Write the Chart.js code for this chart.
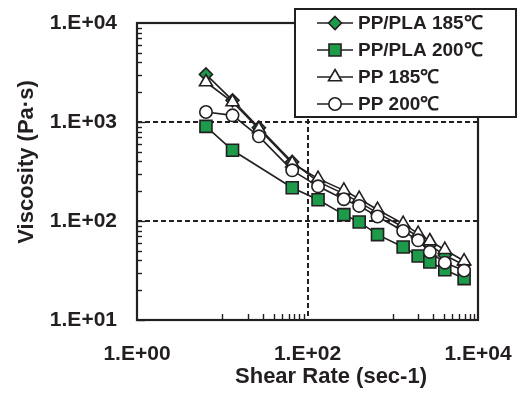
<!DOCTYPE html>
<html><head><meta charset="utf-8">
<script src="https://cdn.jsdelivr.net/npm/chart.js@4.4.0/dist/chart.umd.min.js"></script>
<style>html,body{margin:0;padding:0;background:#fff}canvas{display:block}</style>
</head><body>
<canvas id="c" width="520" height="394"></canvas>
<script>
// ---- data ----
const shearRate = [6.44, 13.2, 26.9, 66.2, 133, 267, 404, 663, 1324, 1986, 2722, 4080, 6870];
const ppPla185 = [3027, 1656, 877, 395, 250, 188, 155, 120, 87, 69, 57, 45, 36];
const ppPla200 = [904, 518, null, 217, 164, 116, 97.8, 72.8, 54.6, 44.3, 38.5, 32.2, 26.2];
const pp185 = [2535, 1592, 850, 383, 268, 204, 168, 130, 94, 74.5, 62.8, 51.3, 39.4];
const pp200 = [1262, 1167, 716, 325, 224, 166, 142, 111, 79.3, 63.8, 48.7, 37.9, 31.6];
const seriesNames = ['PP/PLA 185\u2103', 'PP/PLA 200\u2103', 'PP 185\u2103', 'PP 200\u2103'];
const xTickValues = [1, 100, 10000];
const yTickValues = [10, 100, 1000, 10000];
const xMinorTicks = [10,20,30,40,50,60,70,80,90,1000,2000,3000,4000,5000,6000,7000,8000,9000];
const xTitle = 'Shear Rate (sec-1)';
const yTitle = 'Viscosity (Pa\u00b7s)';

const INK = '#231f20';
const GREEN = '#1e9a4b';
const FONT = "'Liberation Sans', Arial, Helvetica, sans-serif";

function toPts(arr){ return shearRate.map((x,i)=>({x:x, y:arr[i]})); }
function fmt(v){ const e=Math.round(Math.log10(v)); return '1.E+' + String(e).padStart(2,'0'); }

const styles = [
  {pointStyle:'rectRot', pointRadius:6.5, bg:GREEN, order:3},
  {pointStyle:'rect', pointRadius:8.5, bg:GREEN, order:2},
  {pointStyle:'triangle', pointRadius:7.5, bg:'#ffffff', order:1},
  {pointStyle:'circle', pointRadius:6.2, bg:'#ffffff', order:0}
];
const seriesData = [ppPla185, ppPla200, pp185, pp200];

const datasets = seriesData.map((arr,i)=>({
  label: seriesNames[i],
  data: toPts(arr),
  borderColor: INK,
  borderWidth: 1.6,
  pointStyle: styles[i].pointStyle,
  pointRadius: styles[i].pointRadius,
  pointBackgroundColor: styles[i].bg,
  pointBorderColor: INK,
  pointBorderWidth: 1.6,
  order: styles[i].order,
  spanGaps: true,
  tension: 0,
  fill: false
}));

function drawMarker(ctx, style, r, x, y, bg){
  ctx.beginPath();
  if (style==='rectRot'){ ctx.moveTo(x, y-r); ctx.lineTo(x+r, y); ctx.lineTo(x, y+r); ctx.lineTo(x-r, y); ctx.closePath(); }
  else if (style==='rect'){ const s=Math.SQRT1_2*r; ctx.rect(x-s, y-s, 2*s, 2*s); }
  else if (style==='triangle'){ ctx.moveTo(x, y-r); ctx.lineTo(x+r*Math.sin(Math.PI/3), y+r/2); ctx.lineTo(x-r*Math.sin(Math.PI/3), y+r/2); ctx.closePath(); }
  else { ctx.arc(x, y, r, 0, Math.PI*2); }
  ctx.fillStyle=bg; ctx.fill(); ctx.lineWidth=1.6; ctx.strokeStyle=INK; ctx.stroke();
}

const decor = {
  id:'decor',
  beforeDatasetsDraw(chart){
    const {ctx, chartArea:a, scales:{x, y}} = chart;
    ctx.save();
    ctx.strokeStyle = INK; ctx.lineWidth = 2; ctx.setLineDash([5,3]);
    [100, 1000].forEach(v=>{ const py=Math.round(y.getPixelForValue(v)); ctx.beginPath(); ctx.moveTo(a.left, py); ctx.lineTo(a.right, py); ctx.stroke(); });
    [100].forEach(v=>{ const px=Math.round(x.getPixelForValue(v)); ctx.beginPath(); ctx.moveTo(px, a.top); ctx.lineTo(px, a.bottom); ctx.stroke(); });
    ctx.setLineDash([]);
    ctx.lineWidth = 1.4;
    for (let d=10; d<10000; d*=10){
      for (let m=1; m<10; m++){
        const v=d*m; const py=Math.round(y.getPixelForValue(v))+0.5; const len = m===1?8:5;
        ctx.beginPath(); ctx.moveTo(a.left, py); ctx.lineTo(a.left+len, py); ctx.stroke();
      }
    }
    xMinorTicks.forEach(v=>{ const px=Math.round(x.getPixelForValue(v))+0.5; ctx.beginPath(); ctx.moveTo(px, a.bottom); ctx.lineTo(px, a.bottom-6); ctx.stroke(); });
    ctx.lineWidth = 2.2; ctx.strokeRect(a.left, a.top, a.right-a.left, a.bottom-a.top);
    ctx.restore();
  },
  afterDraw(chart){
    const {ctx} = chart;
    ctx.save();
    ctx.fillStyle = INK; ctx.font = "bold 22px " + FONT; ctx.textAlign='center'; ctx.textBaseline='middle';
    ctx.fillText(xTitle, 331, 377);
    ctx.translate(27, 162); ctx.rotate(-Math.PI/2); ctx.fillText(yTitle, 0, 0);
    ctx.restore();
    ctx.save();
    const bx=295, by=9, bw=221, bh=108;
    ctx.fillStyle='#fff'; ctx.fillRect(bx, by, bw, bh);
    ctx.lineWidth=2; ctx.strokeStyle=INK; ctx.strokeRect(bx, by, bw, bh);
    chart.data.datasets.forEach((ds,i)=>{
      const ry = 23 + i*27;
      ctx.lineWidth=1.6; ctx.strokeStyle=INK;
      ctx.beginPath(); ctx.moveTo(317, ry); ctx.lineTo(353, ry); ctx.stroke();
      drawMarker(ctx, ds.pointStyle, ds.pointRadius, 335, ry, ds.pointBackgroundColor);
      ctx.fillStyle=INK; ctx.font="bold 19px " + FONT; ctx.textAlign='left'; ctx.textBaseline='middle';
      ctx.fillText(ds.label, 358, ry+1);
    });
    ctx.restore();
  }
};

function noPad(s){ s.paddingLeft=0; s.paddingRight=0; s.paddingTop=0; s.paddingBottom=0; }

new Chart(document.getElementById('c'), {
  type:'line',
  data:{datasets},
  options:{
    responsive:false, animation:false, devicePixelRatio:1,
    layout:{padding:{top:23, right:42, left:0, bottom:0}},
    plugins:{legend:{display:false}, tooltip:{enabled:false}},
    scales:{
      x:{type:'logarithmic', min:1, max:10000,
        afterBuildTicks(s){ s.ticks = xTickValues.map(v=>({value:v})); },
        afterFit(s){ s.height = 74; noPad(s); },
        grid:{display:false, drawTicks:false}, border:{display:false},
        ticks:{callback:(v)=>fmt(v), color:INK, padding:22, maxRotation:0, autoSkip:false, font:{family:FONT, weight:'bold', size:21}}
      },
      y:{type:'logarithmic', min:10, max:10000,
        afterBuildTicks(s){ s.ticks = yTickValues.map(v=>({value:v})); },
        afterFit(s){ s.width = 137; noPad(s); },
        grid:{display:false, drawTicks:false}, border:{display:false},
        ticks:{callback:(v)=>fmt(v), color:INK, padding:20, autoSkip:false, font:{family:FONT, weight:'bold', size:21}}
      }
    }
  },
  plugins:[decor]
});
</script>
</body></html>
